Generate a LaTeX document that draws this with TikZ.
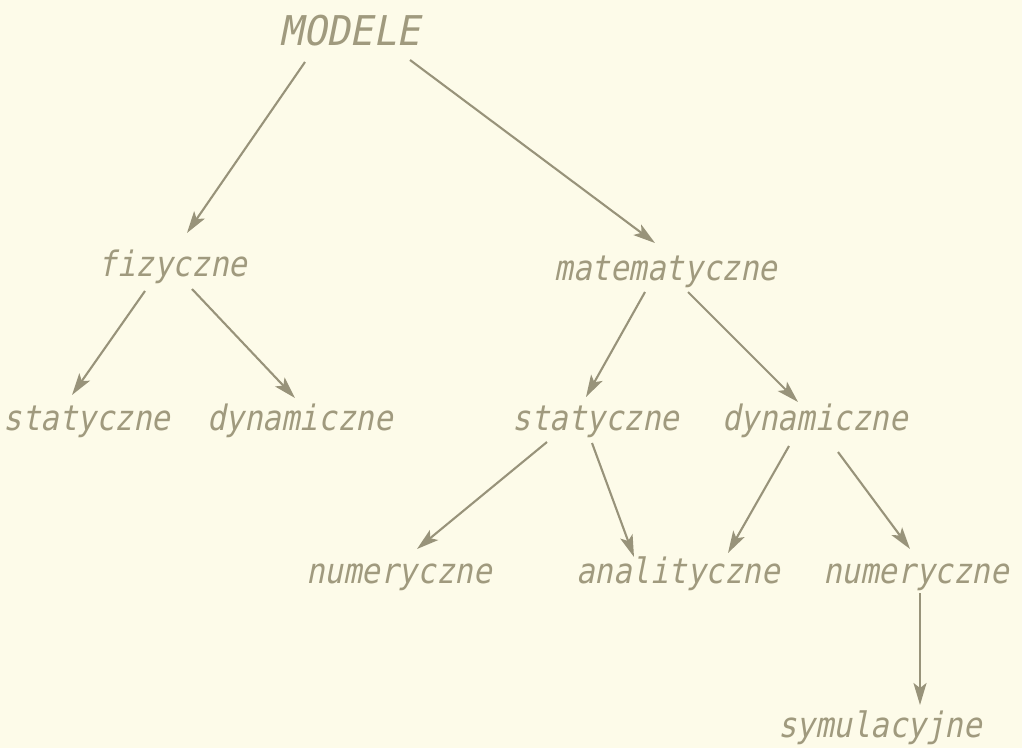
\documentclass[tikz,border=0pt]{standalone}
\usepackage{fontspec}
\usetikzlibrary{arrows.meta,calc}
% stencil-like slanted lettering
\newfontfamily\lettering{DejaVu Sans Mono}[FakeSlant=0.2,FakeStretch=0.88]
\newfontfamily\capletter{DejaVu Sans Mono}[FakeSlant=0.2,FakeStretch=0.95]
\definecolor{paper}{RGB}{253,251,233}
\definecolor{ink}{RGB}{160,154,126}
\definecolor{lineink}{RGB}{152,147,122}
\tikzset{
  term/.style={anchor=base,inner sep=0pt,text=ink,font=\lettering\fontsize{35}{40}\selectfont},
  top term/.style={term,font=\capletter\fontsize{41}{46}\selectfont},
  arr/.style={draw=lineink,line width=2.1pt,
    -{Stealth[length=22pt,width=13pt,inset=5pt]}},
}
\begin{document}
\begin{tikzpicture}[x=1pt,y=-1pt]
\fill[paper] (0,0) rectangle (1022,748);
\useasboundingbox (0,0) rectangle (1022,748);

% terms
\node[top term] (modele) at (350,45) {MODELE};
\node[term] (fiz)  at (173,276) {fizyczne};
\node[term] (mat)  at (666,280) {matematyczne};
\node[term] (fst)  at (87,430)  {statyczne};
\node[term] (fdy)  at (300,430) {dynamiczne};
\node[term] (mst)  at (596,430) {statyczne};
\node[term] (mdy)  at (815,430) {dynamiczne};
\node[term] (num1) at (399,583) {numeryczne};
\node[term] (ana)  at (678,583) {analityczne};
\node[term] (num2) at (916,583) {numeryczne};
\node[term] (sym)  at (880,737) {symulacyjne};

% connectors
\draw[arr] ($(modele.base)+(-45,17)$) -- ($(fiz.base)+(14,-43)$);
\draw[arr] ($(modele.base)+(60,15)$)  -- ($(mat.base)+(-11,-37)$);
\draw[arr] ($(fiz.base)+(-28,15)$)    -- ($(fst.base)+(-15,-35)$);
\draw[arr] ($(fiz.base)+(19,13)$)     -- ($(fdy.base)+(-5,-32)$);
\draw[arr] ($(mat.base)+(-21,12)$)    -- ($(mst.base)+(-10,-33)$);
\draw[arr] ($(mat.base)+(22,12)$)     -- ($(mdy.base)+(-17,-28)$);
\draw[arr] ($(mst.base)+(-49,12)$)    -- ($(num1.base)+(18,-34)$);
\draw[arr] ($(mst.base)+(-4,13)$)     -- ($(ana.base)+(-44,-26)$);
\draw[arr] ($(mdy.base)+(-26,16)$)    -- ($(ana.base)+(50,-30)$);
\draw[arr] ($(mdy.base)+(23,22)$)     -- ($(num2.base)+(-6,-34)$);
\draw[arr] ($(num2.base)+(4,10)$)     -- ($(sym.base)+(40,-32)$);
\end{tikzpicture}
\end{document}
